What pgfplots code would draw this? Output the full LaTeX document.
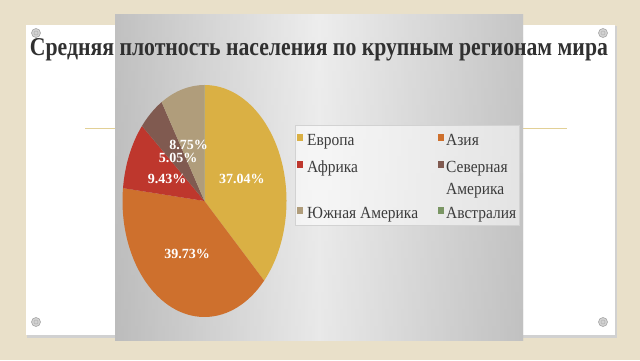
\documentclass[border=0pt]{standalone}
\usepackage{pgfplots}
\pgfplotsset{compat=1.18}
\usepackage{pgfplotstable}
\usepackage{graphicx}
\usepackage{fontspec}
\setmainfont{Liberation Serif}

\definecolor{canvas}{RGB}{233,224,201}
\definecolor{cEur}{RGB}{218,176,68}
\definecolor{cAsia}{RGB}{206,112,45}
\definecolor{cAfr}{RGB}{190,55,45}
\definecolor{cNAm}{RGB}{128,90,80}
\definecolor{cSAm}{RGB}{176,157,123}
\definecolor{cAus}{RGB}{122,150,100}
\definecolor{titlec}{RGB}{48,48,48}
\definecolor{legc}{RGB}{60,60,60}
\definecolor{linec}{RGB}{226,208,150}

\newcommand\lt[1]{\scalebox{0.91}[1]{#1}}

\pgfplotstableread{
region share color
Europe 37.04 cEur
Asia 39.73 cAsia
Africa 9.43 cAfr
NAmerica 5.05 cNAm
SAmerica 8.75 cSAm
Australia 0.00 cAus
}\piedata

\begin{document}
\begin{tikzpicture}[x=1bp,y=1bp]
% background canvas
\fill[canvas] (0,0) rectangle (640,360);
% card shadow and card
\fill[black!18] (27,22.5) rectangle (616.5,334);
\fill[white] (26,25) rectangle (615,335);
% decorative lines
\draw[linec, line width=0.7bp] (85,232) -- (115,232);
\draw[linec, line width=0.7bp] (523,232) -- (567,232);
% gray panel
\shade[top color=gray!30, bottom color=gray!45] (115,20) rectangle (523,345);
\shade[left color=gray!55, right color=gray!50, middle color=gray!8, opacity=0.75] (115,20) rectangle (523,345);
% pins
\foreach \p in {(36,327),(603,327),(36,38),(603,38)}{
  \fill[gray!35] \p circle (4.5);
  \draw[gray!70, line width=0.6bp] \p circle (4.5);
  \draw[gray!60, line width=0.5bp] \p circle (2);
}
% title
\node[anchor=base, text=titlec, inner sep=0] at (319,305)
  {\resizebox{578bp}{17bp}{\bfseries Средняя плотность населения по крупным регионам мира}};

% pie
\begin{axis}[at={(204.5bp,159bp)}, anchor=center, scale only axis,
  width=164bp, height=232bp, xmin=-1, xmax=1, ymin=-1, ymax=1,
  hide axis, clip=false]
\def\cum{0}
\pgfplotsforeachungrouped \i in {0,...,5}{%
  \pgfplotstablegetelem{\i}{share}\of\piedata \let\val\pgfplotsretval
  \pgfplotstablegetelem{\i}{color}\of\piedata \let\col\pgfplotsretval
  \pgfmathsetmacro\aS{90-3.6*\cum}%
  \pgfmathsetmacro\aE{90-3.6*(\cum+\val)}%
  \edef\tmp{\noexpand\fill[\col] (axis cs:0,0) -- ++(\aS:82bp and 116bp)
     arc[start angle=\aS, end angle=\aE, x radius=82bp, y radius=116bp] -- cycle;}%
  \tmp
  \pgfmathsetmacro\newcum{\cum+\val}%
  \global\let\cum\newcum
}
\begin{scope}[every node/.style={text=white, font=\fontsize{14bp}{16bp}\selectfont\bfseries, inner sep=0}]
\node at (axis cs:0.457,0.19) {37.04\%};
\node at (axis cs:-0.213,-0.457) {39.73\%};
\node at (axis cs:-0.457,0.19) {9.43\%};
\node at (axis cs:-0.323,0.37) {5.05\%};
\node at (axis cs:-0.195,0.483) {8.75\%};
\end{scope}
\end{axis}

% legend
\fill[white, opacity=0.55] (295,135) rectangle (519,235);
\draw[gray!35, line width=0.4bp] (295,135) rectangle (519,235);
\begin{scope}[every node/.style={anchor=base west, inner sep=0, text=legc, font=\fontsize{17bp}{19bp}\selectfont}]
\fill[cEur] (297,219) rectangle (303,226);
\node at (307,215) {\lt{Европа}};
\fill[cAsia] (438,219) rectangle (444,226);
\node at (446,215) {\lt{Азия}};
\fill[cAfr] (297,192) rectangle (303,199);
\node at (307,188) {\lt{Африка}};
\fill[cNAm] (438,192) rectangle (444,199);
\node at (446,188) {\lt{Северная}};
\node at (446,166) {\lt{Америка}};
\fill[cSAm] (297,146) rectangle (303,153);
\node at (307,142) {\lt{Южная Америка}};
\fill[cAus] (438,146) rectangle (444,153);
\node at (446,142) {\lt{Австралия}};
\end{scope}
\end{tikzpicture}
\end{document}
